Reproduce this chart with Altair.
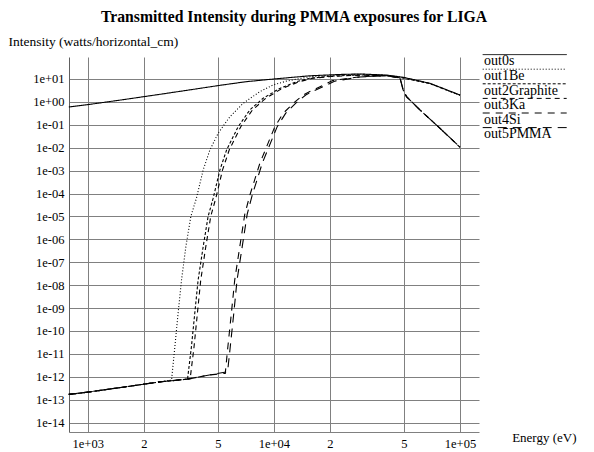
import altair as alt
import pandas as pd

# ---- data (energy in eV, intensity in W/horizontal cm)
series_names = ["out0s", "out1Be", "out2Graphite", "out3Ka", "out4Si", "out5PMMA"]

e_out0s = [791, 1000, 1560, 2440, 4000, 5000, 7060, 10000, 15600, 22700, 29000, 40500, 50000, 69000, 100000]
i_out0s = [0.60, 0.76, 1.26, 2.14, 3.89, 5.13, 7.59, 10.0, 13.8, 15.8, 16.6, 14.8, 11.7, 6.46, 2.0]

e_out1Be = [791, 1000, 1560, 2440, 2820, 2937, 3058, 3190, 3366, 3581, 3837, 4170, 4530, 5020, 5800,
            6840, 8410, 9910, 11700, 15600, 22700, 29000, 40500, 50000, 69000, 100000]
i_out1Be = [1.7e-13, 2.14e-13, 3.55e-13, 6.0e-13, 7.2e-13, 2.0e-11, 5.9e-10, 1.66e-08, 4.8e-07, 1.0e-05,
            6.3e-05, 1.07e-03, 7.9e-03, 4.3e-02, 0.224, 0.87, 2.82, 5.5, 8.1, 12.6, 15.1, 16.2, 14.5, 11.5, 6.3, 1.95]

e_out2Graphite = [791, 1000, 1560, 2440, 3436, 3606, 3758, 3917, 4170, 4433, 4720, 5130, 5570, 6430, 7430,
                  8760, 10760, 13240, 15600, 19900, 29000, 40500, 47500, 69000, 100000]
i_out2Graphite = [1.7e-13, 2.14e-13, 3.55e-13, 6.0e-13, 7.9e-13, 2.04e-11, 5.9e-10, 1.66e-08, 4.8e-07, 1.0e-05,
                  6.3e-05, 1.07e-03, 7.9e-03, 8.3e-02, 0.447, 1.45, 3.89, 7.6, 10.7, 13.2, 15.1, 14.1, 11.7, 6.3, 1.95]

e_out3Ka = [791, 1000, 1560, 2440, 3550, 3725, 3882, 4046, 4308, 4579, 4876, 5300, 5754, 6642, 7675, 9050,
            11100, 13680, 16100, 20500, 29000, 40500, 47500, 48200, 49500, 51600, 60900, 78000, 100000]
i_out3Ka = [1.7e-13, 2.14e-13, 3.55e-13, 6.0e-13, 8.3e-13, 2.04e-11, 5.9e-10, 1.66e-08, 4.8e-07, 1.0e-05,
            6.3e-05, 1.07e-03, 7.9e-03, 8.3e-02, 0.447, 1.45, 3.89, 7.6, 10.7, 12.9, 14.8, 13.8, 11.2, 7.6, 3.3,
            1.7, 0.447, 0.0708, 0.0105]

e_out4Si = [791, 1000, 1560, 2440, 3436, 4500, 5480, 5660, 5910, 6160, 6560, 6980, 7430, 8410, 9140, 10120,
            11220, 12700, 14400, 15600, 20700, 29000, 40500, 47500, 48200, 49500, 51600, 60900, 78000, 100000]
i_out4Si = [1.7e-13, 2.14e-13, 3.55e-13, 6.0e-13, 7.9e-13, 1.2e-12, 1.41e-12, 2.04e-11, 5.9e-10, 1.66e-08,
            4.8e-07, 1.26e-05, 8.5e-05, 2.1e-03, 1.1e-02, 8.3e-02, 0.316, 0.87, 2.0, 2.82, 8.5, 12.6, 14.1, 11.2,
            7.6, 3.3, 1.7, 0.447, 0.0708, 0.0105]

e_out5PMMA = [791, 1000, 1560, 2440, 3436, 4500, 5640, 5830, 6090, 6340, 6760, 7190, 7650, 8660, 9410, 10420,
              11560, 13080, 14830, 16070, 21300, 29000, 40500, 47500, 48200, 49500, 51600, 60900, 78000, 100000]
i_out5PMMA = [1.7e-13, 2.14e-13, 3.55e-13, 6.0e-13, 7.9e-13, 1.2e-12, 1.66e-12, 2.04e-11, 5.9e-10, 1.66e-08,
              4.8e-07, 1.26e-05, 8.5e-05, 2.1e-03, 1.1e-02, 8.3e-02, 0.316, 0.87, 2.0, 2.82, 8.1, 12.3, 13.8, 11.2,
              7.6, 3.3, 1.7, 0.447, 0.0708, 0.0105]

x_ticks = [1000, 2000, 5000, 10000, 20000, 50000, 100000]
y_ticks = [1e1, 1e0, 1e-1, 1e-2, 1e-3, 1e-4, 1e-5, 1e-6, 1e-7, 1e-8, 1e-9, 1e-10, 1e-11, 1e-12, 1e-13, 1e-14]

energies = [e_out0s, e_out1Be, e_out2Graphite, e_out3Ka, e_out4Si, e_out5PMMA]
intens = [i_out0s, i_out1Be, i_out2Graphite, i_out3Ka, i_out4Si, i_out5PMMA]

rows = []
for name, es, iis in zip(series_names, energies, intens):
    for e, v in zip(es, iis):
        rows.append({"series": name, "E": e, "I": v})
df = pd.DataFrame(rows)

legend_df = pd.DataFrame({"series": series_names, "idx": list(range(len(series_names)))})

FONT = "Liberation Serif"
W, H = 410, 375

dash_scale = alt.Scale(domain=series_names,
                       range=[[1, 0], [1, 2], [3, 2], [5, 4], [7, 6], [9, 6]])

y_label = ("'1e' + (round(log(datum.value)/LN10) < 0 ? '-' : '+') + "
           "(abs(round(log(datum.value)/LN10)) < 10 ? '0' : '') + abs(round(log(datum.value)/LN10))")
x_label = ("datum.value == 1000 ? '1e+03' : datum.value == 10000 ? '1e+04' : datum.value == 100000 ? '1e+05' : "
           "datum.value < 10000 ? format(datum.value/1000, 'd') : format(datum.value/10000, 'd')")

lines = alt.Chart(df).mark_line(color="black", strokeWidth=1.1).encode(
    x=alt.X("E:Q",
            scale=alt.Scale(type="log", domain=[793, 126500], nice=False),
            axis=alt.Axis(values=x_ticks, labelExpr=x_label, ticks=False, labelPadding=5,
                          labelFont=FONT, labelFontSize=12.5, labelColor="black",
                          grid=True, gridColor="#808080", gridOpacity=1, domainColor="#808080",
                          title="Energy (eV)", titleFont=FONT, titleFontSize=13, titleFontWeight="normal",
                          titleAlign="right", titleBaseline="middle", titleAnchor="start",
                          titleX=507, titleY=5, titleColor="black")),
    y=alt.Y("I:Q",
            scale=alt.Scale(type="log", domain=[10 ** -14.41, 10 ** 1.96], nice=False),
            axis=alt.Axis(values=y_ticks, labelExpr=y_label, ticks=False, labelPadding=5,
                          labelFont=FONT, labelFontSize=12.5, labelColor="black",
                          grid=True, gridColor="#808080", gridOpacity=1, domainColor="#606060",
                          title="Intensity (watts/horizontal_cm)", titleFont=FONT, titleFontSize=13.5,
                          titleFontWeight="normal", titleAngle=0, titleAlign="left",
                          titleBaseline="middle", titleX=-61, titleY=-16, titleColor="black")),
    strokeDash=alt.StrokeDash("series:N", scale=dash_scale, legend=None),
    detail="series:N",
)

leg_rules = alt.Chart(legend_df).transform_calculate(
    ly="-2.4 + 14.6 * datum.idx"
).mark_rule(color="black", strokeWidth=1).encode(
    x=alt.value(413.7),
    x2=alt.value(497.7),
    y=alt.Y("ly:Q", scale=None, axis=None),
    strokeDash=alt.StrokeDash("series:N", scale=dash_scale, legend=None),
)

leg_text = alt.Chart(legend_df).transform_calculate(
    ly="4.3 + 14.6 * datum.idx"
).mark_text(align="left", baseline="middle", font=FONT, fontSize=14, color="black").encode(
    x=alt.value(415),
    y=alt.Y("ly:Q", scale=None, axis=None),
    text="series:N",
)

chart = alt.layer(lines, leg_rules, leg_text).properties(
    width=W, height=H,
    autosize=alt.AutoSizeParams(type="none"),
    padding={"left": 61, "top": 49, "right": 107, "bottom": 19},
    title=alt.TitleParams("Transmitted Intensity during PMMA exposures for LIGA",
                          font=FONT, fontSize=15.7, fontWeight="bold", color="black",
                          anchor="middle", frame="group", dx=20, offset=8),
).configure_view(stroke=None)

chart.save("out.html", embed_options={"renderer": "svg", "actions": False})
